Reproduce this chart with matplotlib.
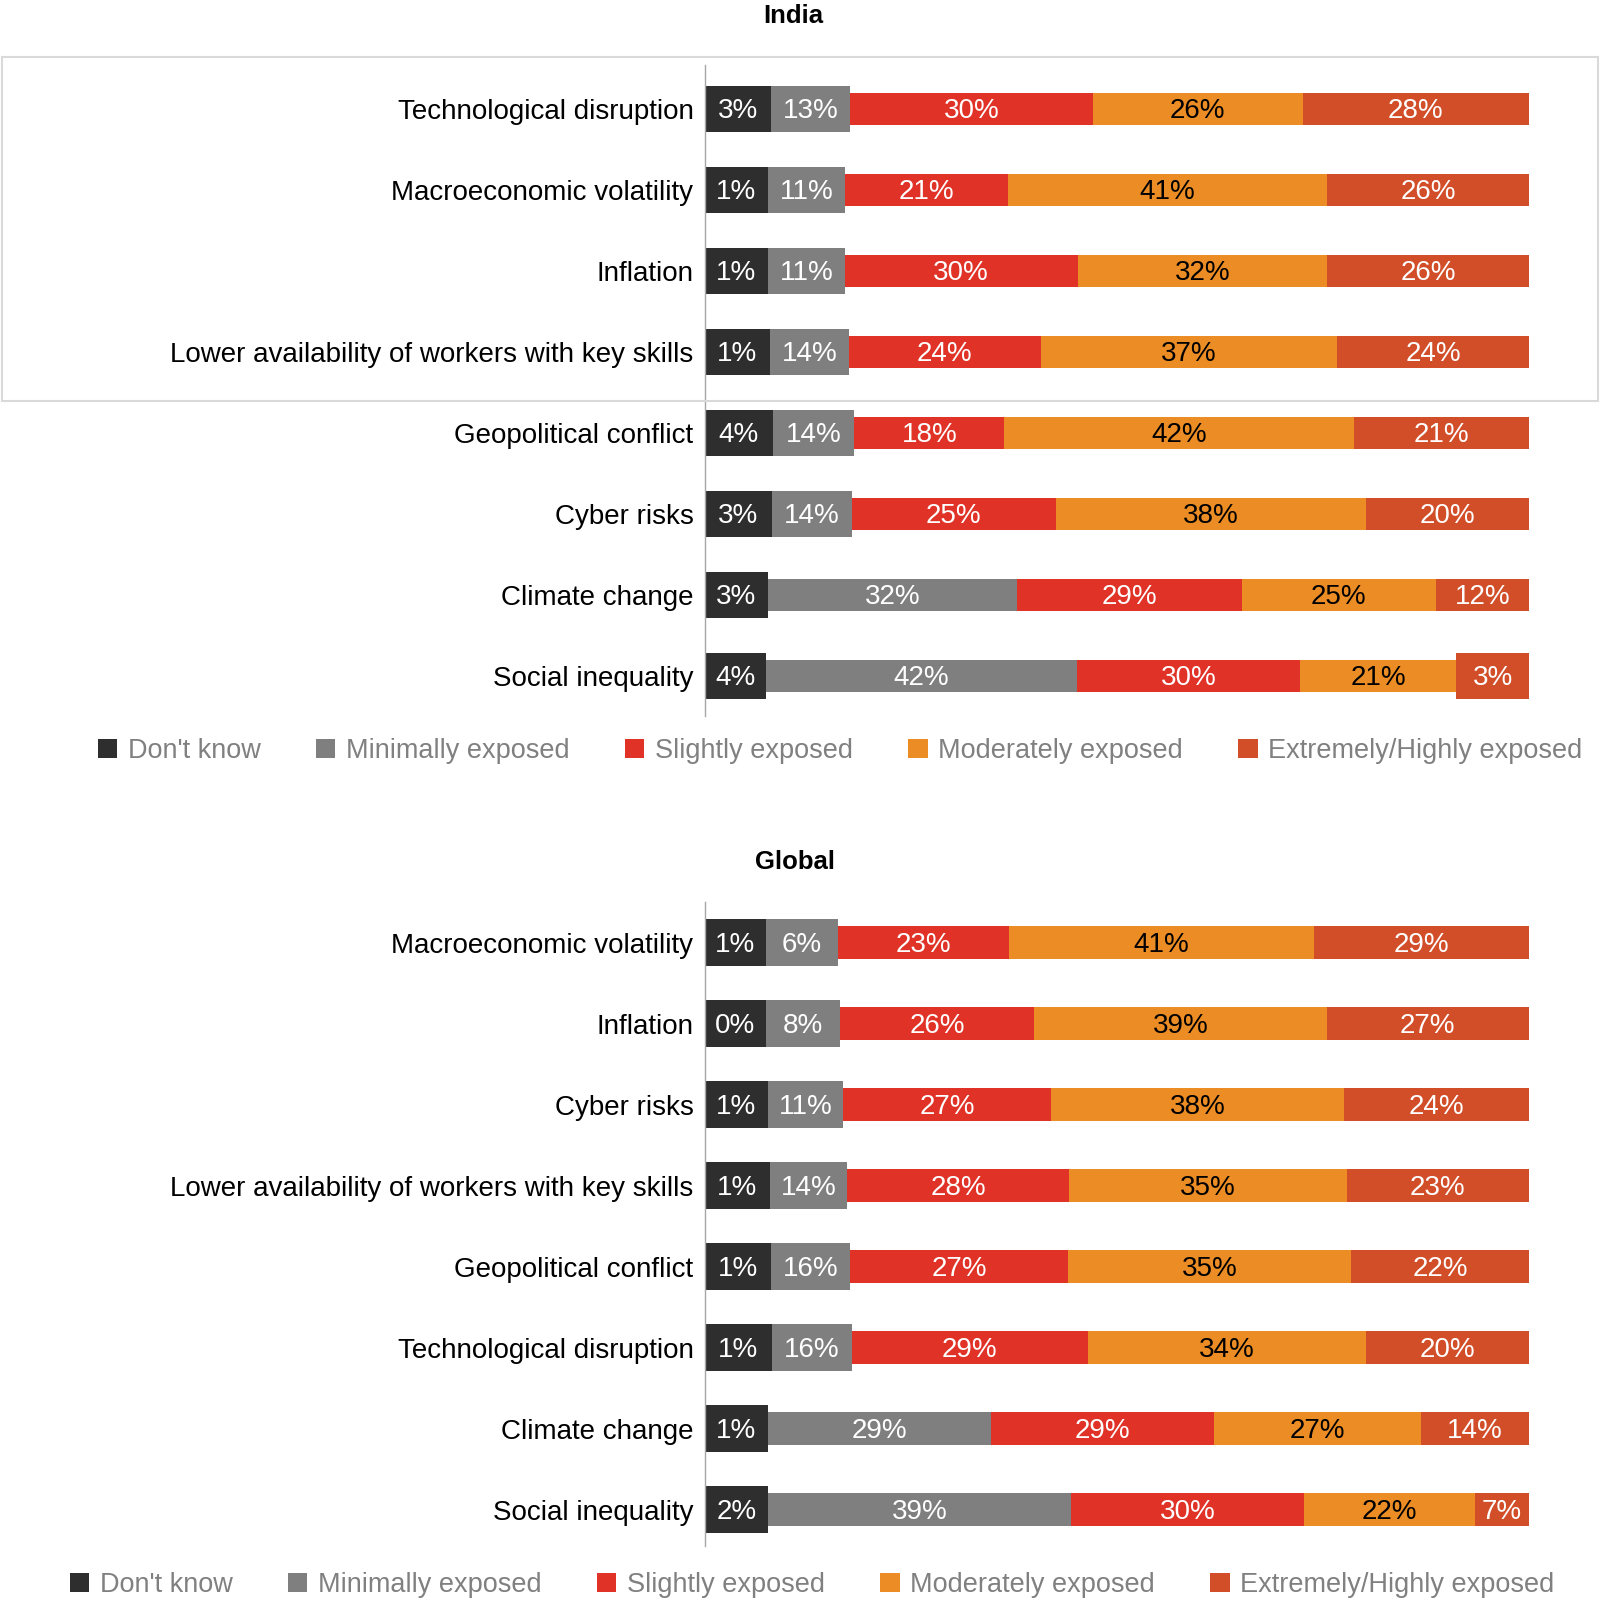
import matplotlib.pyplot as plt
import numpy as np
from matplotlib.patches import Patch, Rectangle

plt.rcParams['font.family'] = ['Liberation Sans', 'DejaVu Sans']

levels = ["Don't know", 'Minimally exposed', 'Slightly exposed',
          'Moderately exposed', 'Extremely/Highly exposed']
colors = ['#2d2e2d', '#7f7f7f', '#e03226', '#eb8c24', '#d14e29']
text_colors = ['white', 'white', 'white', 'black', 'white']

india_risks = ['Technological disruption', 'Macroeconomic volatility', 'Inflation',
               'Lower availability of workers with key skills', 'Geopolitical conflict',
               'Cyber risks', 'Climate change', 'Social inequality']
india_dont_know = [3, 1, 1, 1, 4, 3, 3, 4]
india_minimal = [13, 11, 11, 14, 14, 14, 32, 42]
india_slight = [30, 21, 30, 24, 18, 25, 29, 30]
india_moderate = [26, 41, 32, 37, 42, 38, 25, 21]
india_extreme = [28, 26, 26, 24, 21, 20, 12, 3]

global_risks = ['Macroeconomic volatility', 'Inflation', 'Cyber risks',
                'Lower availability of workers with key skills', 'Geopolitical conflict',
                'Technological disruption', 'Climate change', 'Social inequality']
global_dont_know = [1, 0, 1, 1, 1, 1, 1, 2]
global_minimal = [6, 8, 11, 14, 16, 16, 29, 39]
global_slight = [23, 26, 27, 28, 27, 29, 29, 30]
global_moderate = [41, 39, 38, 35, 35, 34, 27, 22]
global_extreme = [29, 27, 24, 23, 22, 20, 14, 7]

DK_W = 8.2      # don't know always gets a fixed box
BOX_W = 9.8     # small shares get a box wide enough for their label
TALL, SHORT = 0.57, 0.40
FS = 19.5


def display_widths(vals):
    vals = np.asarray(vals, dtype=float)
    boxed = np.zeros(vals.shape, dtype=bool)
    boxed[0] = True
    boxed[1] = vals[1] <= 16
    boxed[2:] = vals[2:] < 5
    w = np.where(boxed, BOX_W, vals)
    w[0] = DK_W
    w = w / w.sum(axis=0) * 100
    return w, boxed


def stacked(ax, risks, series):
    vals = np.array(series)
    w, boxed = display_widths(vals)
    y = np.arange(len(risks))
    lefts = np.zeros(len(risks))
    for k in range(len(series)):
        h = np.where(boxed[k], TALL, SHORT)
        ax.barh(y, w[k], left=lefts, height=h, color=colors[k])
        for i in range(len(risks)):
            ax.text(lefts[i] + w[k, i] / 2, y[i] + 0.03, f'{vals[k, i]}%',
                    ha='center', va='center', fontsize=FS + 0.5, color=text_colors[k])
        lefts += w[k]
    ax.set_xlim(0, 100)
    ax.set_yticks(y, risks)
    ax.set_xticks([])
    ax.tick_params(axis='y', length=0, pad=8, labelsize=20)
    for s in ['top', 'right', 'bottom']:
        ax.spines[s].set_visible(False)
    ax.spines['left'].set_color('#a6a6a6')
    ax.spines['left'].set_linewidth(1)


fig = plt.figure(figsize=(16, 16.18), dpi=100)
W, H = 1600, 1618
left = 704.6 / W
width = (1529 - 704.6) / W

ax1 = fig.add_axes([left, 1 - 716.5 / H, width, 652 / H])
stacked(ax1, india_risks, [india_dont_know, india_minimal, india_slight,
                           india_moderate, india_extreme])
ax1.set_ylim(7.5, -0.55)

ax2 = fig.add_axes([left, 1 - 1546 / H, width, 644 / H])
stacked(ax2, global_risks, [global_dont_know, global_minimal, global_slight,
                            global_moderate, global_extreme])
ax2.set_ylim(7.45, -0.5)

fig.text(793 / W, 1 - 16 / H, 'India', ha='center', va='center',
         fontsize=18.5, fontweight='bold')
fig.text(795 / W, 1 - 862 / H, 'Global', ha='center', va='center',
         fontsize=18.5, fontweight='bold')

# highlight box round the top four India rows
fig.patches.append(Rectangle((2 / W, 1 - 401 / H), 1596 / W, 344 / H,
                             transform=fig.transFigure, fill=False,
                             edgecolor='#d9d9d9', linewidth=1.5))

handles = [Patch(facecolor=c, label=l) for c, l in zip(colors, levels)]
for cx, cy in [(840 / W, 1 - 751 / H), (812 / W, 1 - 1585 / H)]:
    fig.legend(handles=handles, loc='center', bbox_to_anchor=(cx, cy), ncol=5,
               frameon=False, fontsize=FS, labelcolor='#808080',
               handlelength=0.72, handleheight=0.72, handletextpad=0.38,
               columnspacing=2.05)

fig.savefig('out.png', dpi=100)
